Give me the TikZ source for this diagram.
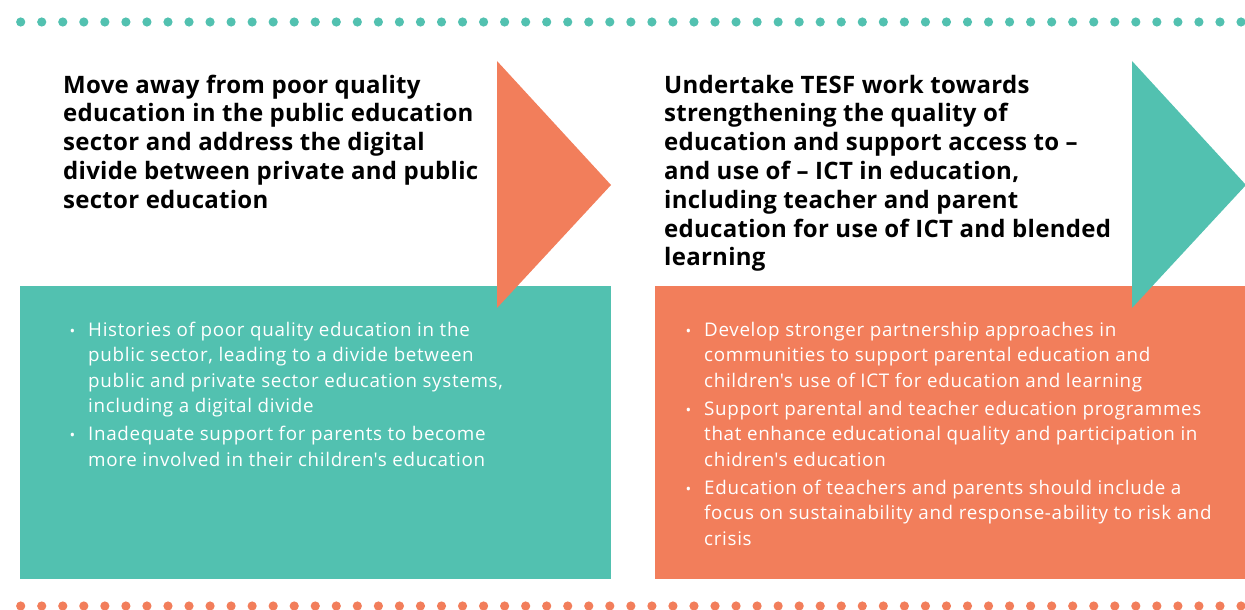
\documentclass[tikz,border=0pt]{standalone}
\usepackage{fontspec}
\setmainfont{Open Sans}
\newfontfamily\corps{Open Sans}[LetterSpace=3.6]
\newfontfamily\gras{Open Sans}[LetterSpace=1.2]
\usepackage{tikz}
\usetikzlibrary{positioning}
\definecolor{vert}{HTML}{52C1B0}
\definecolor{orange}{HTML}{F27E5B}
\tikzstyle{titre} = [anchor=base west,inner sep=0pt,align=left,font=\gras\bfseries\fontsize{24}{28.8}\selectfont]
\tikzstyle{texte} = [anchor=base west,inner sep=0pt,align=left,text=white,font=\corps\fontsize{18.8}{25.5}\selectfont]
\newcommand{\puce}{\llap{{\fontsize{15}{15}\selectfont\textbullet}\hspace{13pt}}}

\begin{document}
\begin{tikzpicture}[x=1pt,y=-1pt]

	\useasboundingbox (0,0) rectangle (1245,610);

	% pointilles
	\foreach \i in {0,...,59} {
		\fill[vert] (20.7+\i*21.04,22) circle (4.6);
		\fill[orange] (20.7+\i*21.04,606) circle (4.6);
	}

	\fill[vert] (20,286) rectangle (611,579);
	\fill[orange] (655,286) rectangle (1245,579);

	\fill[orange] (497,61) -- (611,185) -- (497,308) -- cycle;
	\fill[vert] (1132,61) -- (1246,185) -- (1132,308) -- cycle;

	% ancre = ligne de base de la derniere ligne
	\node[titre] (T1) at (63,208.2) {Move away from poor quality\\education in the public education\\sector and address the digital\\divide between private and public\\sector education};

	\node[titre] (T2) at (664,265.8) {Undertake TESF work towards\\strengthening the quality of\\education and support access to –\\and use of – ICT in education,\\including teacher and parent\\education for use of ICT and blended\\learning};

	\node[texte] (G1) at (88,412.5) {\puce Histories of poor quality education in the\\public sector, leading to a divide between\\public and private sector education systems,\\including a digital divide};
	\node[texte] (G2) at (88,466) {\puce Inadequate support for parents to become\\more involved in their children\textquotesingle s education};

	\node[texte] (D1) at (704,387) {\puce Develop stronger partnership approaches in\\communities to support parental education and\\children\textquotesingle s use of ICT for education and learning};
	\node[texte] (D2) at (704,466) {\puce Support parental and teacher education programmes\\that enhance educational quality and participation in\\chidren\textquotesingle s education};
	\node[texte] (D3) at (704,545) {\puce Education of teachers and parents should include a\\focus on sustainability and response-ability to risk and\\crisis};

\end{tikzpicture}
\end{document}
